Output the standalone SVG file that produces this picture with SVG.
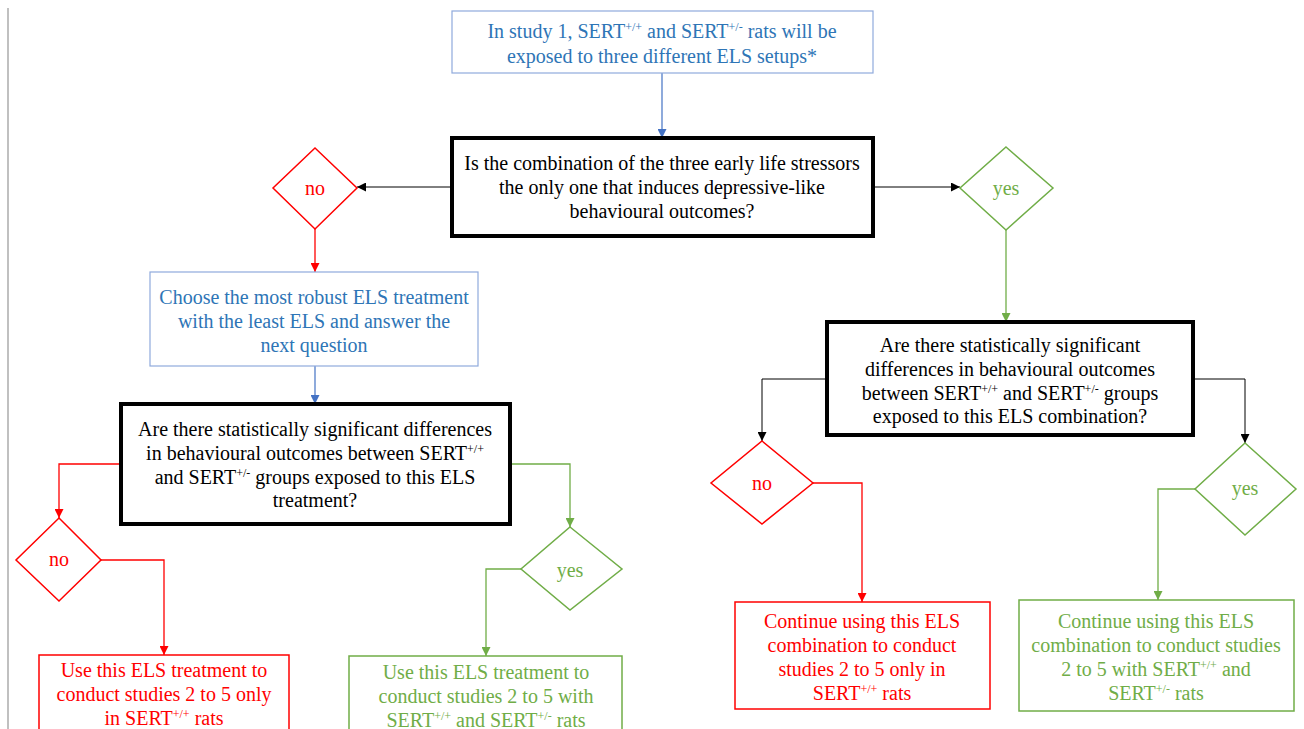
<svg xmlns="http://www.w3.org/2000/svg" width="1304" height="729" viewBox="0 0 1304 729">
  <style>
    text { font-family: "Liberation Serif", "Times New Roman", serif; font-size: 20px; text-anchor: middle; }
    .sup { font-size: 12px; baseline-shift: super; }
    .blue { fill: #2e75b6; }
    .red { fill: #ff0000; }
    .green { fill: #70ad47; }
    .black { fill: #000; }
    .qbox { fill: #fff; stroke: #000; stroke-width: 4; }
    .bbox { fill: #fff; stroke: #8faadc; stroke-width: 1.2; }
    .rbox { fill: #fff; stroke: #ff0000; stroke-width: 1.5; }
    .gbox { fill: #fff; stroke: #70ad47; stroke-width: 1.5; }
    .rdia { fill: #fff; stroke: #ff0000; stroke-width: 1.5; }
    .gdia { fill: #fff; stroke: #70ad47; stroke-width: 1.5; }
    .cb { fill: none; stroke: #4472c4; stroke-width: 1.2; }
    .ck { fill: none; stroke: #000; stroke-width: 1; }
    .cr { fill: none; stroke: #ff0000; stroke-width: 1.3; }
    .cg { fill: none; stroke: #70ad47; stroke-width: 1.3; }
  </style>
  <defs>
    <marker id="ah-blue" viewBox="0 0 10 10" refX="10" refY="5" markerWidth="9" markerHeight="9" markerUnits="userSpaceOnUse" orient="auto"><path d="M0,0 L10,5 L0,10 z" fill="#4472c4"/></marker>
    <marker id="ah-black" viewBox="0 0 10 10" refX="10" refY="5" markerWidth="9" markerHeight="9" markerUnits="userSpaceOnUse" orient="auto"><path d="M0,0 L10,5 L0,10 z" fill="#000"/></marker>
    <marker id="ah-red" viewBox="0 0 10 10" refX="10" refY="5" markerWidth="9" markerHeight="9" markerUnits="userSpaceOnUse" orient="auto"><path d="M0,0 L10,5 L0,10 z" fill="#ff0000"/></marker>
    <marker id="ah-green" viewBox="0 0 10 10" refX="10" refY="5" markerWidth="9" markerHeight="9" markerUnits="userSpaceOnUse" orient="auto"><path d="M0,0 L10,5 L0,10 z" fill="#70ad47"/></marker>
  </defs>

  <rect width="1304" height="729" fill="#fff"/>
  <!-- page margin rule -->
  <line x1="8" y1="8" x2="8" y2="729" stroke="#c0c0c0" stroke-width="2"/>

  <g id="connectors">
    <path class="cb" d="M662,73 V138" marker-end="url(#ah-blue)"/>
    <path class="ck" d="M452,187 H357" marker-end="url(#ah-black)"/>
    <path class="ck" d="M873,187 H960" marker-end="url(#ah-black)"/>
    <path class="cr" d="M315,229 V272" marker-end="url(#ah-red)"/>
    <path class="cb" d="M315,366 V404" marker-end="url(#ah-blue)"/>
    <path class="cr" d="M121,464 H59 V518" marker-end="url(#ah-red)"/>
    <path class="cr" d="M101,560 H164 V655" marker-end="url(#ah-red)"/>
    <path class="cg" d="M510,464 H570 V527" marker-end="url(#ah-green)"/>
    <path class="cg" d="M521,569 H486 V656" marker-end="url(#ah-green)"/>
    <path class="cg" d="M1006,230 V322" marker-end="url(#ah-green)"/>
    <path class="ck" d="M827,379 H762 V441" marker-end="url(#ah-black)"/>
    <path class="ck" d="M1193,379 H1245 V443" marker-end="url(#ah-black)"/>
    <path class="cr" d="M813,483 H862 V602" marker-end="url(#ah-red)"/>
    <path class="cg" d="M1195,489 H1158 V600" marker-end="url(#ah-green)"/>
  </g>

  <g id="start">
    <rect class="bbox" x="452" y="11" width="421" height="62"/>
    <text class="blue" x="662" y="38">In study 1, SERT<tspan class="sup">+/+</tspan> and SERT<tspan class="sup">+/-</tspan> rats will be</text>
    <text class="blue" x="662" y="63">exposed to three different ELS setups*</text>
  </g>

  <g id="q1">
    <rect class="qbox" x="452" y="138" width="421" height="98"/>
    <text class="black" x="662" y="170">Is the combination of the three early life stressors</text>
    <text class="black" x="662" y="194">the only one that induces depressive-like</text>
    <text class="black" x="662" y="218">behavioural outcomes?</text>
  </g>

  <g id="q1-no">
    <polygon class="rdia" points="315,148 357,188 315,229 273,188"/>
    <text class="red" x="315" y="195">no</text>
  </g>

  <g id="q1-yes">
    <polygon class="gdia" points="1006,147 1053,188 1006,230 960,188"/>
    <text class="green" x="1006" y="195">yes</text>
  </g>

  <g id="choose">
    <rect class="bbox" x="150" y="272" width="328" height="94"/>
    <text class="blue" x="314" y="304">Choose the most robust ELS treatment</text>
    <text class="blue" x="314" y="328">with the least ELS and answer the</text>
    <text class="blue" x="314" y="352">next question</text>
  </g>

  <g id="q2">
    <rect class="qbox" x="121" y="404" width="389" height="120"/>
    <text class="black" x="315" y="436">Are there statistically significant differences</text>
    <text class="black" x="315" y="460">in behavioural outcomes between SERT<tspan class="sup">+/+</tspan></text>
    <text class="black" x="315" y="484">and SERT<tspan class="sup">+/-</tspan> groups exposed to this ELS</text>
    <text class="black" x="315" y="507">treatment?</text>
  </g>

  <g id="q2-no">
    <polygon class="rdia" points="59,518 101,560 59,601 16,560"/>
    <text class="red" x="59" y="566">no</text>
  </g>

  <g id="q2-yes">
    <polygon class="gdia" points="570,527 622,569 570,610 521,569"/>
    <text class="green" x="570" y="577">yes</text>
  </g>

  <g id="outcome-a">
    <rect class="rbox" x="39" y="655" width="250" height="80"/>
    <text class="red" x="164" y="677">Use this ELS treatment to</text>
    <text class="red" x="164" y="701">conduct studies 2 to 5 only</text>
    <text class="red" x="164" y="725">in SERT<tspan class="sup">+/+</tspan> rats</text>
  </g>

  <g id="outcome-b">
    <rect class="gbox" x="349" y="656" width="273" height="80"/>
    <text class="green" x="486" y="679">Use this ELS treatment to</text>
    <text class="green" x="486" y="703">conduct studies 2 to 5 with</text>
    <text class="green" x="486" y="727">SERT<tspan class="sup">+/+</tspan> and SERT<tspan class="sup">+/-</tspan> rats</text>
  </g>

  <g id="q3">
    <rect class="qbox" x="827" y="322" width="366" height="113"/>
    <text class="black" x="1010" y="352">Are there statistically significant</text>
    <text class="black" x="1010" y="376">differences in behavioural outcomes</text>
    <text class="black" x="1010" y="400">between SERT<tspan class="sup">+/+</tspan> and SERT<tspan class="sup">+/-</tspan> groups</text>
    <text class="black" x="1010" y="423">exposed to this ELS combination?</text>
  </g>

  <g id="q3-no">
    <polygon class="rdia" points="762,441 813,483 762,524 711,483"/>
    <text class="red" x="762" y="490">no</text>
  </g>

  <g id="q3-yes">
    <polygon class="gdia" points="1245,443 1296,489 1245,535 1195,489"/>
    <text class="green" x="1245" y="495">yes</text>
  </g>

  <g id="outcome-c">
    <rect class="rbox" x="735" y="602" width="255" height="107"/>
    <text class="red" x="862" y="628">Continue using this ELS</text>
    <text class="red" x="862" y="652">combination to conduct</text>
    <text class="red" x="862" y="676">studies 2 to 5 only in</text>
    <text class="red" x="862" y="700">SERT<tspan class="sup">+/+</tspan> rats</text>
  </g>

  <g id="outcome-d">
    <rect class="gbox" x="1019" y="600" width="275" height="111"/>
    <text class="green" x="1156" y="628">Continue using this ELS</text>
    <text class="green" x="1156" y="652">combination to conduct studies</text>
    <text class="green" x="1156" y="676">2 to 5 with SERT<tspan class="sup">+/+</tspan> and</text>
    <text class="green" x="1156" y="700">SERT<tspan class="sup">+/-</tspan> rats</text>
  </g>
</svg>
